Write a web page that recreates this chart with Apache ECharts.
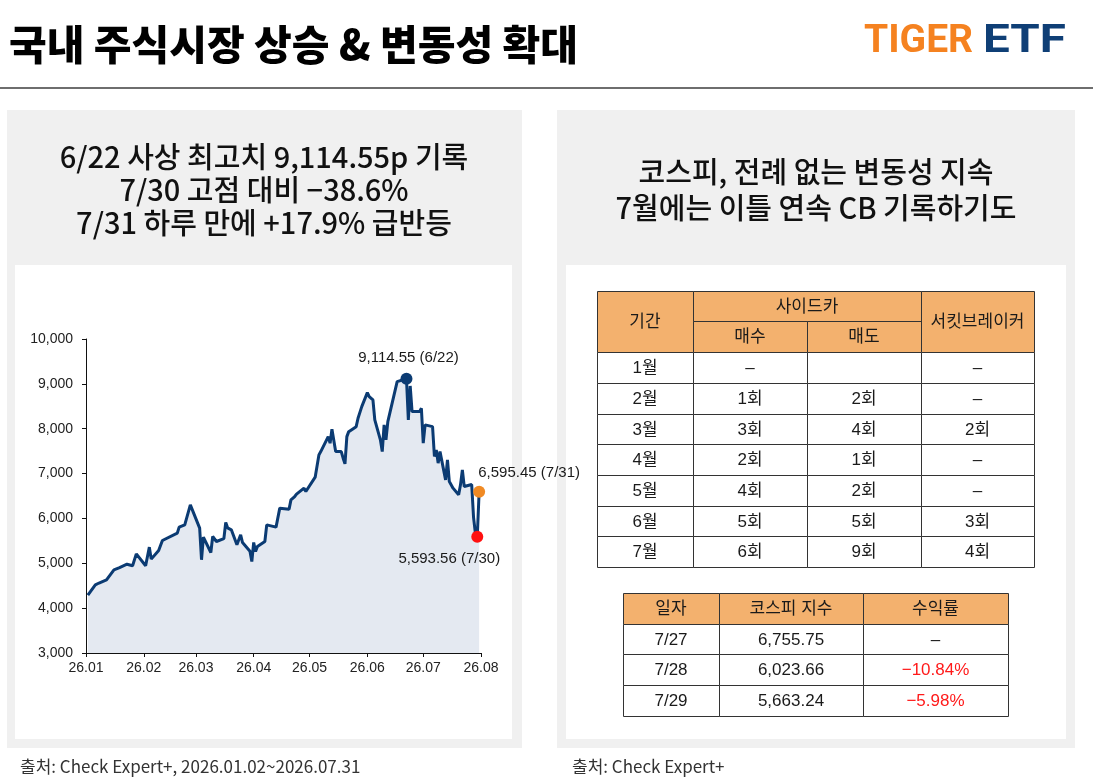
<!DOCTYPE html>
<html>
<head>
<meta charset="utf-8">
<script src="https://cdn.jsdelivr.net/npm/echarts@6/dist/echarts.min.js"></script>
<style>
  html, body { margin: 0; padding: 0; background: #fff; }
  #main { width: 1093px; height: 778px; }
</style>
</head>
<body>
<div id="main"></div>
<script>
// KOSPI close (2026)
const dates = [
  '2026-01-02','2026-01-06','2026-01-08','2026-01-12','2026-01-16','2026-01-19','2026-01-20','2026-01-23',
  '2026-01-26','2026-01-28','2026-01-29','2026-02-02','2026-02-04','2026-02-05','2026-02-09','2026-02-11',
  '2026-02-19','2026-02-20','2026-02-23','2026-02-26','2026-03-03','2026-03-04','2026-03-05','2026-03-06',
  '2026-03-09','2026-03-10','2026-03-11','2026-03-12','2026-03-16','2026-03-17','2026-03-18','2026-03-20',
  '2026-03-23','2026-03-25','2026-03-26','2026-03-30','2026-03-31','2026-04-01','2026-04-02','2026-04-03',
  '2026-04-07','2026-04-08','2026-04-09','2026-04-13','2026-04-15','2026-04-20','2026-04-21','2026-04-23',
  '2026-04-24','2026-04-28','2026-04-29','2026-05-04','2026-05-06','2026-05-07','2026-05-08','2026-05-11',
  '2026-05-12','2026-05-13','2026-05-15','2026-05-18','2026-05-19','2026-05-20','2026-05-21','2026-05-22',
  '2026-05-26','2026-05-27','2026-05-28','2026-05-29','2026-06-01','2026-06-02','2026-06-04','2026-06-05',
  '2026-06-08','2026-06-09','2026-06-10','2026-06-11','2026-06-12','2026-06-17','2026-06-18','2026-06-22',
  '2026-06-23','2026-06-24','2026-06-25','2026-06-26','2026-06-29','2026-06-30','2026-07-01','2026-07-02',
  '2026-07-06','2026-07-07','2026-07-08','2026-07-09','2026-07-10','2026-07-13','2026-07-14','2026-07-15',
  '2026-07-17','2026-07-20','2026-07-21','2026-07-22','2026-07-23','2026-07-24','2026-07-27','2026-07-28',
  '2026-07-29','2026-07-30','2026-07-31'
];
const values = [
  4290, 4520, 4560, 4630, 4855, 4905, 4893, 4980,
  4945, 5210, 5227, 4945, 5360, 5093, 5285, 5508,
  5672, 5806, 5857, 6303, 5784, 5078, 5584, 5561,
  5240, 5597, 5580, 5486, 5550, 5909, 5790, 5746,
  5412, 5635, 5463, 5270, 5040, 5463, 5262, 5374,
  5486, 5857, 5820, 5806, 6229, 6207, 6414, 6488,
  6541, 6675, 6600, 6920, 7416, 7490, 7510, 7824,
  7677, 7988, 7490, 7490, 7343, 7216, 7824, 7935,
  8046, 8234, 8200, 8492, 8804, 8715, 8641, 8196,
  7751, 7490, 8085, 7751, 8158, 9049, 9060, 9114.55,
  8196, 8953, 8381, 8420, 8381, 8456, 7677, 8085,
  8046, 7380, 7528, 7232, 7490, 6860, 7305, 6822,
  6675, 6526, 6749, 7083, 6711, 6740, 6755.75, 6023.66,
  5663.24, 5593.56, 6595.45
];

// highlighted points
const markDates = ['2026-06-22', '2026-07-30', '2026-07-31'];
const markValues = [9114.55, 5593.56, 6595.45];
const markLabels = ['9,114.55 (6/22)', '5,593.56 (7/30)', '6,595.45 (7/31)'];

// x axis ticks
const tickDates = ['2026-01-01','2026-02-01','2026-03-01','2026-04-01','2026-05-01','2026-06-01','2026-07-01','2026-08-01'];
const tickLabels = ['26.01','26.02','26.03','26.04','26.05','26.06','26.07','26.08'];

// sidecar / circuit breaker table
const months = ['1월','2월','3월','4월','5월','6월','7월'];
const sidecarBuy = ['–','1회','3회','2회','4회','5회','6회'];
const sidecarSell = ['','2회','4회','1회','2회','5회','9회'];
const circuitBreaker = ['–','–','2회','–','–','3회','4회'];

// daily index table
const dayLabels = ['7/27','7/28','7/29'];
const dayIndex = ['6,755.75','6,023.66','5,663.24'];
const dayReturn = ['–','−10.84%','−5.98%'];

function ts(s) {
  const p = s.split('-');
  return new Date(+p[0], +p[1] - 1, +p[2]).getTime();
}

const KR = '"Noto Sans CJK KR", sans-serif';
const NUM = '"Liberation Sans", "Noto Sans CJK KR", sans-serif';
const HEAD = '#f3b16e';
const LINE = '#333';
const tickTs = tickDates.map(ts);

const g = [];

function rect(x, y, w, h, fill, z, stroke) {
  g.push({
    type: 'rect', z: z,
    shape: { x: x, y: y, width: w, height: h },
    style: { fill: fill, stroke: stroke || null, lineWidth: stroke ? 1 : 0 }
  });
}
function text(str, x, y, size, opt) {
  opt = opt || {};
  g.push({
    type: 'text', z: 20, x: x, y: y,
    scaleX: opt.scaleX || 1,
    style: {
      text: str,
      fontSize: size,
      fontWeight: opt.weight || 'normal',
      fontFamily: opt.family || KR,
      fill: opt.color || '#111',
      textAlign: opt.align || 'center',
      textVerticalAlign: 'middle'
    }
  });
}
function cell(x0, y0, x1, y1, fill, str, color) {
  rect(x0 + 0.5, y0 + 0.5, x1 - x0, y1 - y0, fill, 10, LINE);
  if (str) text(str, (x0 + x1) / 2, (y0 + y1) / 2 + 1, 17, { color: color || '#1a1a1a', family: NUM });
}

// page header
text('국내 주식시장 상승 & 변동성 확대', 9, 44, 41, { align: 'left', weight: 900, color: '#000' });
text('TIGER', 864, 42, 39, { align: 'left', weight: 'bold', color: '#f58220', family: 'Roboto, sans-serif' });
text('ETF', 983, 42, 39, { align: 'left', weight: 'bold', color: '#0f3f76', family: 'Roboto, sans-serif', scaleX: 1.22 });
rect(0, 87, 1093, 2, '#6e6e6e', 5);

// panels
rect(7, 110, 515, 638, '#f0f0f0', -10);
rect(15, 265, 497, 474, '#ffffff', -9);
rect(557, 110, 518, 638, '#f0f0f0', -10);
rect(566, 265, 500, 474, '#ffffff', -9);

text('6/22 사상 최고치 9,114.55p 기록', 264, 157, 29, { weight: 500 });
text('7/30 고점 대비 −38.6%', 264, 190, 29, { weight: 500 });
text('7/31 하루 만에 +17.9% 급반등', 264, 223, 29, { weight: 500 });
text('코스피, 전례 없는 변동성 지속', 816, 172, 29, { weight: 500 });
text('7월에는 이틀 연속 CB 기록하기도', 816, 208, 29, { weight: 500 });

text('출처: Check Expert+, 2026.01.02~2026.07.31', 20, 767, 17, { align: 'left', color: '#333' });
text('출처: Check Expert+', 572, 767, 17, { align: 'left', color: '#333' });

// table 1
const c1 = [597, 693, 807, 921, 1034];
const r1 = [291, 321, 352, 383, 414, 444, 475, 506, 536, 567];
cell(c1[0], r1[0], c1[1], r1[2], HEAD, '기간');
cell(c1[1], r1[0], c1[3], r1[1], HEAD, '사이드카');
cell(c1[1], r1[1], c1[2], r1[2], HEAD, '매수');
cell(c1[2], r1[1], c1[3], r1[2], HEAD, '매도');
cell(c1[3], r1[0], c1[4], r1[2], HEAD, '서킷브레이커');
months.forEach(function (m, i) {
  const cols = [m, sidecarBuy[i], sidecarSell[i], circuitBreaker[i]];
  cols.forEach(function (v, j) {
    cell(c1[j], r1[i + 2], c1[j + 1], r1[i + 3], '#ffffff', v);
  });
});

// table 2
const c2 = [623, 719, 863, 1008];
const r2 = [593, 624, 654, 685, 716];
['일자', '코스피 지수', '수익률'].forEach(function (h, j) {
  cell(c2[j], r2[0], c2[j + 1], r2[1], HEAD, h);
});
dayLabels.forEach(function (d, i) {
  cell(c2[0], r2[i + 1], c2[1], r2[i + 2], '#ffffff', d);
  cell(c2[1], r2[i + 1], c2[2], r2[i + 2], '#ffffff', dayIndex[i]);
  const neg = dayReturn[i].indexOf('−') === 0;
  cell(c2[2], r2[i + 1], c2[3], r2[i + 2], '#ffffff', dayReturn[i], neg ? '#ff1a1a' : null);
});

const chart = echarts.init(document.getElementById('main'));

const option = {
  animation: false,
  backgroundColor: '#ffffff',
  grid: { left: 86, top: 339, width: 395, height: 314 },
  xAxis: {
    type: 'value',
    min: tickTs[0],
    max: tickTs[tickTs.length - 1],
    splitLine: { show: false },
    axisLine: { lineStyle: { color: '#111', width: 1 } },
    axisTick: { show: true, length: 4, lineStyle: { color: '#111' }, customValues: tickTs },
    axisLabel: {
      customValues: tickTs,
      color: '#222', fontSize: 14, fontFamily: NUM, margin: 8,
      formatter: function (v) {
        const i = tickTs.indexOf(v);
        return i >= 0 ? tickLabels[i] : '';
      }
    }
  },
  yAxis: {
    type: 'value',
    min: 3000, max: 10000, interval: 1000,
    splitLine: { show: false },
    axisLine: { show: true, lineStyle: { color: '#111', width: 1 } },
    axisTick: { show: true, length: 4, lineStyle: { color: '#111' } },
    axisLabel: {
      color: '#222', fontSize: 14, fontFamily: NUM, margin: 13,
      formatter: function (v) { return v.toLocaleString('en-US'); }
    }
  },
  series: [
    {
      type: 'line',
      data: dates.map(function (d, i) { return [ts(d), values[i]]; }),
      showSymbol: false,
      lineStyle: { color: '#0b3b73', width: 3 },
      areaStyle: { color: '#e4e9f1', opacity: 1 },
      silent: true,
      z: 2
    },
    {
      type: 'scatter',
      symbolSize: 12,
      z: 5,
      data: markDates.map(function (d, i) {
        const pos = [
          { position: 'top', offset: [2, 0], distance: 7 },
          { position: 'bottom', offset: [-28, 0], distance: 9 },
          { position: 'top', offset: [50, 0], distance: 5 }
        ][i];
        return {
          value: [ts(d), markValues[i]],
          itemStyle: { color: ['#0b3b73', '#ff1010', '#f08a24'][i], opacity: 1 },
          label: {
            show: true,
            formatter: markLabels[i],
            position: pos.position,
            offset: pos.offset,
            distance: pos.distance,
            color: '#1a1a1a',
            fontSize: 15,
            fontFamily: NUM
          }
        };
      })
    }
  ],
  graphic: { elements: g }
};

chart.setOption(option);
</script>
</body>
</html>
